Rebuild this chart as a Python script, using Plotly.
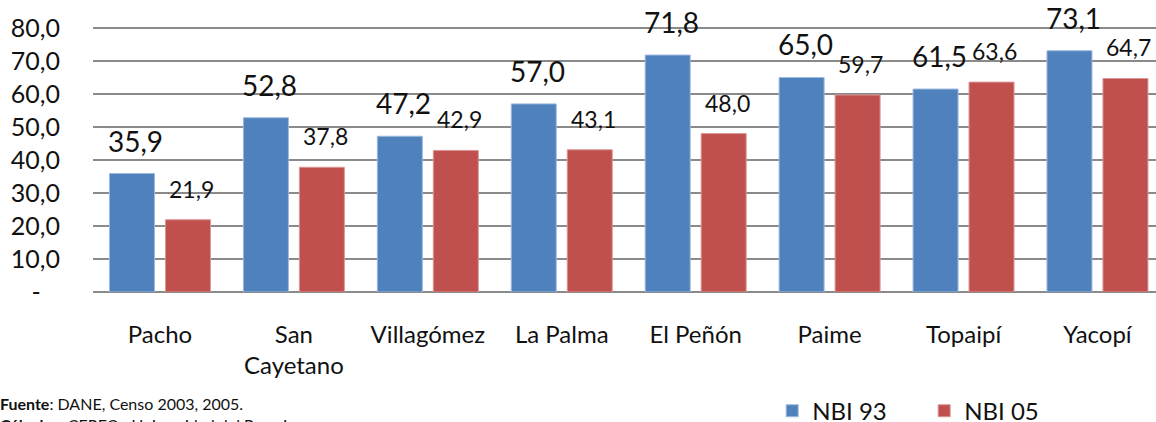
import plotly.graph_objects as go

# data
municipios = ["Pacho", "San<br>Cayetano", "Villagómez", "La Palma", "El Peñón", "Paime", "Topaipí", "Yacopí"]
nbi_93 = [35.9, 52.8, 47.2, 57.0, 71.8, 65.0, 61.5, 73.1]
nbi_05 = [21.9, 37.8, 42.9, 43.1, 48.0, 59.7, 63.6, 64.7]
y_ticks = [0, 10, 20, 30, 40, 50, 60, 70, 80]
y_ticktext = ["-\u00a0\u00a0\u00a0", "10,0", "20,0", "30,0", "40,0", "50,0", "60,0", "70,0", "80,0"]

colors = {'nbi93': '#4F81BD', 'nbi05': '#C0504D', 'grid': '#8A8A8A', 'text': '#111111'}
FONT = "Lato"

def fmt(v):
    return f"{v:.1f}".replace(".", ",")

x = list(range(len(municipios)))
bar_w = 0.336

fig = go.Figure()
fig.add_trace(go.Bar(
    x=x, y=nbi_93, name="NBI 93",
    width=bar_w, offset=-0.377,
    marker=dict(color=colors['nbi93'], line=dict(color='#9DB9DD', width=1)),
))
fig.add_trace(go.Bar(
    x=x, y=nbi_05, name="NBI 05",
    width=bar_w, offset=0.041,
    marker=dict(color=colors['nbi05'], line=dict(color='#D99795', width=1)),
))

# value labels above the bars
for i, (a, b) in enumerate(zip(nbi_93, nbi_05)):
    fig.add_annotation(x=i - 0.377 + bar_w / 2 + 0.03, y=a, text=fmt(a),
                       showarrow=False, yanchor='bottom', yshift=14,
                       font=dict(family=FONT, size=28, color=colors['text']))
    fig.add_annotation(x=i + 0.041 + bar_w / 2 + 0.025, y=b, text=fmt(b),
                       showarrow=False, yanchor='bottom', yshift=15,
                       font=dict(family=FONT, size=23, color=colors['text']))

# source note
fig.add_annotation(
    xref='paper', yref='paper', x=-0.0889, y=-0.342, xanchor='left', yanchor='top',
    align='left', showarrow=False,
    text="<b>Fuente</b>: DANE, Censo 2003, 2005.<br><b>Cálculos</b>: CEREC - Universidad del Rosario",
    font=dict(family=FONT, size=16, color=colors['text']),
)

fig.update_layout(
    width=1156, height=422,
    margin=dict(l=92.5, r=0, t=0, b=130, autoexpand=False),
    plot_bgcolor='white', paper_bgcolor='white',
    font=dict(family=FONT, color=colors['text']),
    barmode='overlay',
    showlegend=True,
    legend=dict(orientation='h', x=(772 - 92.5) / 1063.5, y=-0.408, yanchor='middle',
                xanchor='left', font=dict(size=24), entrywidth=107,
                bgcolor='rgba(0,0,0,0)'),
    xaxis=dict(
        range=[-0.5, 7.437], tickvals=x, ticktext=municipios, automargin=False,
        showgrid=False, zeroline=False, showline=False, ticks='',
        tickfont=dict(size=24), ticklabelstandoff=26,
    ),
    yaxis=dict(
        range=[0, 88.48], tickvals=y_ticks, ticktext=y_ticktext, automargin=False,
        showgrid=True, gridcolor=colors['grid'], gridwidth=1.5,
        zeroline=True, zerolinecolor=colors['grid'], zerolinewidth=1.5,
        showline=False, ticks='', tickfont=dict(size=25), ticklabelstandoff=32,
    ),
)

# drop the browser's default body margin so the figure sits at the page corner
fig.write_html("out.html", config={'displayModeBar': False},
               post_script="document.body.style.margin = '0';")
